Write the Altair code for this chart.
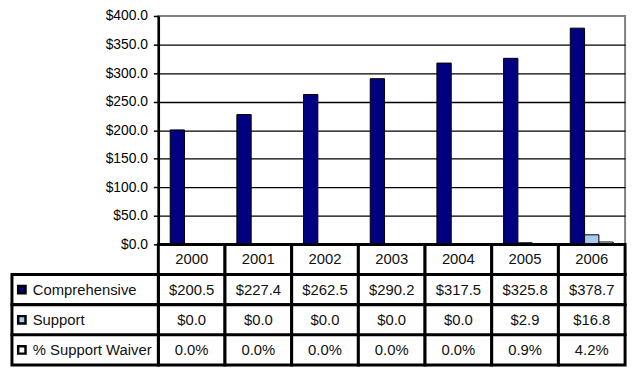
import altair as alt
import pandas as pd

years = ["2000", "2001", "2002", "2003", "2004", "2005", "2006"]
comprehensive = [200.5, 227.4, 262.5, 290.2, 317.5, 325.8, 378.7]
support = [0.0, 0.0, 0.0, 0.0, 0.0, 2.9, 16.8]
waiver_pct = [0.0, 0.0, 0.0, 0.0, 0.0, 0.9, 4.2]
series = ["Comprehensive", "Support", "% Support Waiver"]
colors = ["#000080", "#A6CAF0", "#FFFFFF"]
y_ticks = [0, 50, 100, 150, 200, 250, 300, 350, 400]
rows = ["header"] + series

FONT = "Liberation Sans"

# long table for bars
bar_records = []
for i, y in enumerate(years):
    for s, vals in zip(series, [comprehensive, support, waiver_pct]):
        bar_records.append({"year": y, "series": s, "value": vals[i]})
bars_df = pd.DataFrame(bar_records)

# table cells
cell_records = []
for i, y in enumerate(years):
    cell_records.append({"year": y, "row": "header", "text": y})
    cell_records.append({"year": y, "row": "Comprehensive", "text": f"${comprehensive[i]:.1f}"})
    cell_records.append({"year": y, "row": "Support", "text": f"${support[i]:.1f}"})
    cell_records.append({"year": y, "row": "% Support Waiver", "text": f"{waiver_pct[i]:.1f}%"})
cells_df = pd.DataFrame(cell_records)
label_df = pd.DataFrame({"row": series, "color": colors})

x_bar = alt.X("year:N", sort=years, axis=None,
              scale=alt.Scale(domain=years, paddingInner=0, paddingOuter=0))

bars = alt.Chart(bars_df).mark_bar(stroke="black", strokeWidth=1).encode(
    x=x_bar,
    xOffset=alt.XOffset("series:N", sort=series,
                        scale=alt.Scale(domain=series, paddingInner=0, paddingOuter=0.83)),
    y=alt.Y("value:Q", scale=alt.Scale(domain=[0, 400]),
            axis=alt.Axis(values=y_ticks, format="$.1f", title=None,
                          grid=True,
                          gridColor={"condition": {"test": "datum.value === 400", "value": "#808080"}, "value": "black"},
                          gridWidth=1.3,
                          domainColor="black", domainWidth=2.5,
                          tickColor="black", tickSize=5, tickWidth=1.5,
                          labelColor="black", labelFont=FONT, labelFontSize=14,
                          labelPadding=6)),
    fill=alt.Fill("series:N", scale=alt.Scale(domain=series, range=colors), legend=None),
).properties(width=472, height=231,
             view=alt.ViewBackground(stroke="#808080", strokeWidth=2))

x_tab = alt.X("year:N", sort=years, axis=None,
              scale=alt.Scale(domain=years, paddingInner=0, paddingOuter=0))
y_tab = alt.Y("row:N", sort=rows, axis=None,
              scale=alt.Scale(domain=rows, paddingInner=0, paddingOuter=0))

cells = alt.Chart(cells_df).mark_rect(fill="white", stroke="black", strokeWidth=3).encode(
    x=x_tab, y=y_tab)
cell_text = alt.Chart(cells_df).mark_text(font=FONT, fontSize=15, color="#111111").encode(
    x=x_tab, y=y_tab, text="text:N")
label_cells = alt.Chart(label_df).mark_rect(fill="white", stroke="black", strokeWidth=3).encode(
    x=alt.value(-148), x2=alt.value(0), y=y_tab)
swatches = alt.Chart(label_df).mark_square(size=55, stroke="black", strokeWidth=2.5, opacity=1).encode(
    x=alt.value(-138), y=y_tab, fill=alt.Fill("color:N", scale=None))
label_text = alt.Chart(label_df).mark_text(font=FONT, fontSize=15, align="left", color="#111111").encode(
    x=alt.value(-127), y=y_tab, text="row:N")

table = alt.layer(cells, label_cells, cell_text, swatches, label_text).properties(
    width=472, height=122,
    view=alt.ViewBackground(stroke="transparent"))

chart = alt.vconcat(bars, table, spacing=0, bounds="flush").resolve_scale(
    x="independent", y="independent", xOffset="independent", fill="independent"
).properties(padding={"left": 2, "top": -2, "right": 5, "bottom": 5}, background="white")

chart.save("out.html", embed_options={"renderer": "svg", "actions": False})
